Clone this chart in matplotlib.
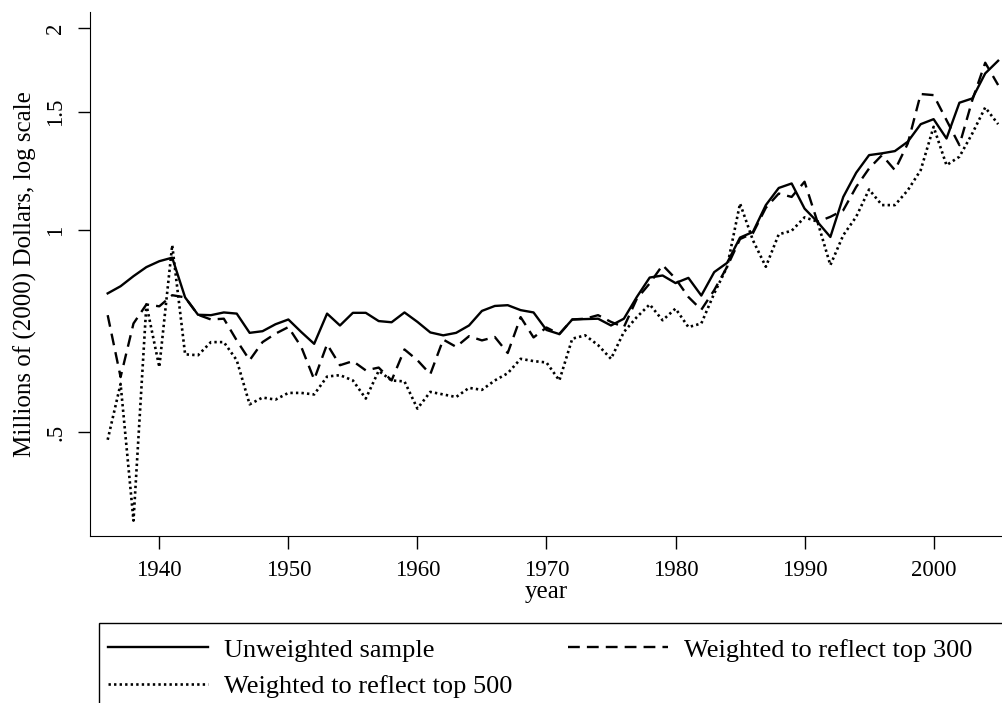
import matplotlib
matplotlib.use("Agg")
import matplotlib.pyplot as plt
from matplotlib.patches import Rectangle
from matplotlib.ticker import FixedLocator, FixedFormatter, NullLocator

plt.rcParams['font.family'] = ['Liberation Serif', 'DejaVu Serif']

# Datos
years = list(range(1936, 2006))

unweighted = [0.805, 0.825, 0.854, 0.881, 0.899, 0.910, 0.794, 0.748, 0.747, 0.754,
              0.751, 0.703, 0.707, 0.724, 0.736, 0.705, 0.677, 0.751, 0.721, 0.753,
              0.753, 0.732, 0.729, 0.754, 0.730, 0.704, 0.697, 0.703, 0.721, 0.758,
              0.771, 0.773, 0.760, 0.754, 0.710, 0.700, 0.736, 0.737, 0.738, 0.721,
              0.738, 0.795, 0.850, 0.856, 0.834, 0.849, 0.799, 0.866, 0.894, 0.975,
              0.994, 1.090, 1.156, 1.174, 1.077, 1.029, 0.977, 1.121, 1.218, 1.294,
              1.302, 1.312, 1.355, 1.439, 1.464, 1.370, 1.549, 1.572, 1.713, 1.789]

top300 = [0.747, 0.604, 0.726, 0.775, 0.770, 0.800, 0.794, 0.748, 0.736, 0.738,
          0.685, 0.640, 0.681, 0.701, 0.717, 0.670, 0.599, 0.676, 0.629, 0.638,
          0.618, 0.624, 0.597, 0.664, 0.640, 0.610, 0.687, 0.670, 0.695, 0.685,
          0.693, 0.656, 0.742, 0.692, 0.716, 0.700, 0.736, 0.738, 0.747, 0.730,
          0.717, 0.790, 0.833, 0.887, 0.847, 0.795, 0.761, 0.814, 0.882, 0.970,
          0.990, 1.080, 1.134, 1.121, 1.181, 1.029, 1.047, 1.071, 1.160, 1.236,
          1.294, 1.229, 1.347, 1.596, 1.590, 1.459, 1.339, 1.563, 1.777, 1.646]

top500 = [0.487, 0.590, 0.369, 0.775, 0.625, 0.950, 0.653, 0.651, 0.681, 0.681,
          0.640, 0.550, 0.563, 0.559, 0.572, 0.572, 0.569, 0.605, 0.608, 0.597,
          0.561, 0.617, 0.597, 0.595, 0.542, 0.574, 0.569, 0.564, 0.582, 0.578,
          0.597, 0.612, 0.643, 0.638, 0.635, 0.597, 0.689, 0.697, 0.674, 0.643,
          0.705, 0.742, 0.775, 0.734, 0.764, 0.717, 0.726, 0.805, 0.882, 1.096,
          0.966, 0.882, 0.986, 0.998, 1.045, 1.030, 0.887, 0.983, 1.047, 1.150,
          1.090, 1.090, 1.147, 1.229, 1.426, 1.250, 1.287, 1.394, 1.524, 1.439]

y_ticks = [0.5, 1, 1.5, 2]
y_tick_labels = ['.5', '1', '1.5', '2']
x_ticks = [1940, 1950, 1960, 1970, 1980, 1990, 2000]

fig = plt.figure(figsize=(10.02, 7.03), dpi=100)
ax = fig.add_axes([90/1002, 167/703, 912/1002, 524/703])

l1, = ax.plot(years, unweighted, color='black', lw=1.7, label='Unweighted sample')
l2, = ax.plot(years, top300, color='black', lw=1.7, dashes=(5, 3), label='Weighted to reflect top 300')
l3, = ax.plot(years, top500, color='black', lw=1.9, dashes=(0.9, 1.2), label='Weighted to reflect top 500')

ax.set_yscale('log')
ax.set_xlim(1934.63, 2005.3)
ax.set_ylim(0.350, 2.115)
ax.yaxis.set_major_locator(FixedLocator(y_ticks))
ax.yaxis.set_major_formatter(FixedFormatter(y_tick_labels))
ax.yaxis.set_minor_locator(NullLocator())
ax.set_xticks(x_ticks)

for s in ['top', 'right']:
    ax.spines[s].set_visible(False)
ax.tick_params(axis='both', direction='out', length=9, width=1, labelsize=16.5, pad=8)
for lab in ax.get_yticklabels():
    lab.set_rotation(90)
    lab.set_va('center')

ax.set_xlabel('year', fontsize=18, labelpad=0)
ax.set_ylabel('Millions of (2000) Dollars, log scale', fontsize=18, labelpad=6)

# caja de la leyenda
fig.patches.append(Rectangle((99/1002, -0.05), 0.95, 1 - 622.7/703 + 0.05,
                             transform=fig.transFigure, fill=False, lw=1, edgecolor='black'))
fig.legend([l1, l3, l2], [l1.get_label(), l3.get_label(), l2.get_label()],
           ncol=2, loc='upper left', bbox_to_anchor=(95/1002, 1 - 625/703),
           frameon=False, fontsize=19, handlelength=3.8, handletextpad=0.6,
           columnspacing=2.1, labelspacing=0.48, borderpad=0)

fig.savefig('out.png', dpi=100)
